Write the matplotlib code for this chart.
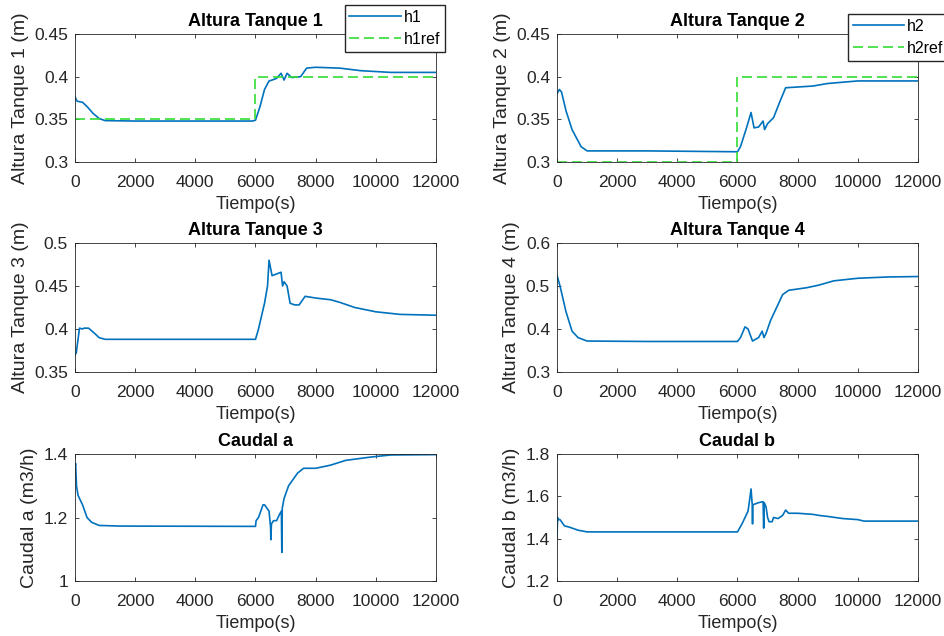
import numpy as np
import matplotlib.pyplot as plt

plt.rcParams['font.family'] = ['Liberation Sans', 'DejaVu Sans']

# ---- data ----
t_h1 = [0, 50, 100, 250, 400, 600, 800, 1000, 2000, 4000, 5900, 6000, 6150, 6300, 6450, 6550,
        6700, 6850, 6950, 7050, 7200, 7500, 7700, 8000, 8800, 9500, 10500, 12000]
h1 = [0.377, 0.372, 0.371, 0.370, 0.365, 0.357, 0.351, 0.3485, 0.348, 0.348, 0.348, 0.349, 0.365,
      0.385, 0.395, 0.396, 0.398, 0.404, 0.396, 0.404, 0.399, 0.400, 0.410, 0.411, 0.410, 0.407,
      0.405, 0.405]
t_ref = [0, 6000, 6000, 12000]
h1ref = [0.35, 0.35, 0.40, 0.40]

t_h2 = [0, 80, 150, 300, 500, 800, 1000, 3000, 6000, 6100, 6300, 6450, 6550, 6700, 6850, 6900,
        7000, 7200, 7400, 7600, 8500, 9000, 10000, 12000]
h2 = [0.380, 0.385, 0.382, 0.360, 0.338, 0.318, 0.313, 0.313, 0.312, 0.318, 0.340, 0.358, 0.340,
      0.341, 0.348, 0.338, 0.345, 0.352, 0.370, 0.387, 0.389, 0.392, 0.395, 0.395]
h2ref = [0.30, 0.30, 0.40, 0.40]

t_h3 = [0, 40, 150, 250, 300, 450, 650, 800, 1000, 3000, 6000, 6100, 6300, 6400, 6450, 6550,
        6700, 6850, 6900, 6950, 7050, 7150, 7300, 7450, 7650, 8000, 8500, 8800, 9300, 10000,
        10800, 12000]
h3 = [0.370, 0.372, 0.401, 0.400, 0.401, 0.401, 0.395, 0.390, 0.388, 0.388, 0.388, 0.400, 0.430,
      0.450, 0.480, 0.462, 0.464, 0.466, 0.450, 0.455, 0.450, 0.430, 0.428, 0.428, 0.438, 0.436,
      0.434, 0.431, 0.425, 0.420, 0.417, 0.416]

t_h4 = [0, 100, 300, 500, 700, 1000, 3000, 6000, 6100, 6250, 6350, 6500, 6700, 6820, 6880, 6950,
        7100, 7300, 7500, 7700, 8000, 8300, 8700, 9200, 10000, 11000, 12000]
h4 = [0.525, 0.500, 0.440, 0.395, 0.380, 0.372, 0.371, 0.371, 0.380, 0.405, 0.400, 0.372, 0.380,
      0.395, 0.380, 0.390, 0.420, 0.450, 0.480, 0.490, 0.493, 0.496, 0.502, 0.512, 0.518, 0.521,
      0.522]

t_qa = [0, 20, 50, 100, 250, 400, 550, 800, 1500, 6000, 6020, 6100, 6250, 6300, 6450, 6500,
        6510, 6530, 6600, 6700, 6800, 6860, 6875, 6890, 6950, 7100, 7250, 7400, 7600, 8000, 8500,
        9000, 9800, 10500, 12000]
qa = [1.36, 1.37, 1.30, 1.27, 1.24, 1.20, 1.185, 1.175, 1.173, 1.172, 1.19, 1.20, 1.24, 1.24,
      1.22, 1.17, 1.13, 1.18, 1.19, 1.19, 1.21, 1.22, 1.09, 1.23, 1.26, 1.30, 1.32, 1.34, 1.355,
      1.355, 1.365, 1.38, 1.39, 1.397, 1.398]

t_qb = [0, 20, 40, 100, 250, 400, 700, 1000, 3000, 6000, 6150, 6250, 6350, 6400, 6450, 6490,
        6500, 6510, 6600, 6700, 6850, 6870, 6890, 6950, 7000, 7050, 7150, 7200, 7350, 7500, 7600,
        7700, 8000, 8500, 8700, 9000, 9500, 10000, 10200, 12000]
qb = [1.40, 1.50, 1.49, 1.49, 1.46, 1.455, 1.44, 1.432, 1.432, 1.432, 1.47, 1.50, 1.53, 1.58,
      1.635, 1.56, 1.47, 1.56, 1.565, 1.57, 1.575, 1.45, 1.57, 1.55, 1.50, 1.48, 1.48, 1.50, 1.495,
      1.51, 1.535, 1.52, 1.52, 1.515, 1.51, 1.505, 1.495, 1.49, 1.483, 1.483]

blue = '#0072BD'
green = '#33DD33'
gray = '#262626'

fig = plt.figure(figsize=(9.45, 6.36), dpi=100)

lefts = [75 / 945, 557 / 945]
width = 361 / 945
tops = [34, 243, 454]
bottoms = [162, 372, 581]


def make_ax(row, col):
    ax = fig.add_axes([lefts[col], 1 - bottoms[row] / 636, width,
                       (bottoms[row] - tops[row]) / 636])
    ax.set_xlim(0, 12000)
    ax.set_xticks([0, 2000, 4000, 6000, 8000, 10000, 12000])
    ax.tick_params(direction='in', top=True, right=True, labelsize=12.5, colors=gray,
                   length=3, width=0.6)
    ax.tick_params(axis='x', pad=9.5)
    ax.tick_params(axis='y', pad=5)
    for s in ax.spines.values():
        s.set_color(gray)
        s.set_linewidth(0.6)
    ax.set_xlabel('Tiempo(s)', fontsize=13, color=gray, labelpad=4.5)
    return ax


def finish(ax, title, ylabel):
    ax.set_title(title, fontsize=13, fontweight='bold', pad=6)
    ax.set_ylabel(ylabel, fontsize=14, color=gray, labelpad=4)


leg_kw = dict(bbox_transform=fig.transFigure, fontsize=11.5, fancybox=False, framealpha=1,
              edgecolor=gray, handlelength=3.2, handletextpad=0.2, borderaxespad=0,
              borderpad=0.3, labelspacing=0.45)

ax1 = make_ax(0, 0)
ax1.plot(t_h1, h1, color=blue, lw=1.2, label='h1')
ax1.plot(t_ref, h1ref, '--', color=green, lw=1.2, dashes=(6, 3), label='h1ref')
ax1.set_ylim(0.3, 0.45)
ax1.set_yticks([0.3, 0.35, 0.4, 0.45])
ax1.set_yticklabels(['0.3', '0.35', '0.4', '0.45'])
finish(ax1, 'Altura Tanque 1', 'Altura Tanque 1 (m)')
ax1.legend(loc='upper right', bbox_to_anchor=(445 / 945, 1 - 5 / 636), **leg_kw)

ax2 = make_ax(0, 1)
ax2.plot(t_h2, h2, color=blue, lw=1.2, label='h2')
ax2.plot(t_ref, h2ref, '--', color=green, lw=1.2, dashes=(6, 3), label='h2ref')
ax2.set_ylim(0.3, 0.45)
ax2.set_yticks([0.3, 0.35, 0.4, 0.45])
ax2.set_yticklabels(['0.3', '0.35', '0.4', '0.45'])
finish(ax2, 'Altura Tanque 2', 'Altura Tanque 2 (m)')
ax2.legend(loc='upper left', bbox_to_anchor=(848 / 945, 1 - 14 / 636), **leg_kw)

ax3 = make_ax(1, 0)
ax3.plot(t_h3, h3, color=blue, lw=1.2)
ax3.set_ylim(0.35, 0.5)
ax3.set_yticks([0.35, 0.4, 0.45, 0.5])
ax3.set_yticklabels(['0.35', '0.4', '0.45', '0.5'])
finish(ax3, 'Altura Tanque 3', 'Altura Tanque 3 (m)')

ax4 = make_ax(1, 1)
ax4.plot(t_h4, h4, color=blue, lw=1.2)
ax4.set_ylim(0.3, 0.6)
ax4.set_yticks([0.3, 0.4, 0.5, 0.6])
ax4.set_yticklabels(['0.3', '0.4', '0.5', '0.6'])
finish(ax4, 'Altura Tanque 4', 'Altura Tanque 4 (m)')

ax5 = make_ax(2, 0)
ax5.plot(t_qa, qa, color=blue, lw=1.2)
ax5.set_ylim(1.0, 1.4)
ax5.set_yticks([1.0, 1.2, 1.4])
ax5.set_yticklabels(['1', '1.2', '1.4'])
finish(ax5, 'Caudal a', 'Caudal a (m3/h)')

ax6 = make_ax(2, 1)
ax6.plot(t_qb, qb, color=blue, lw=1.2)
ax6.set_ylim(1.2, 1.8)
ax6.set_yticks([1.2, 1.4, 1.6, 1.8])
ax6.set_yticklabels(['1.2', '1.4', '1.6', '1.8'])
finish(ax6, 'Caudal b', 'Caudal b (m3/h)')

fig.savefig('out.png', dpi=100)
